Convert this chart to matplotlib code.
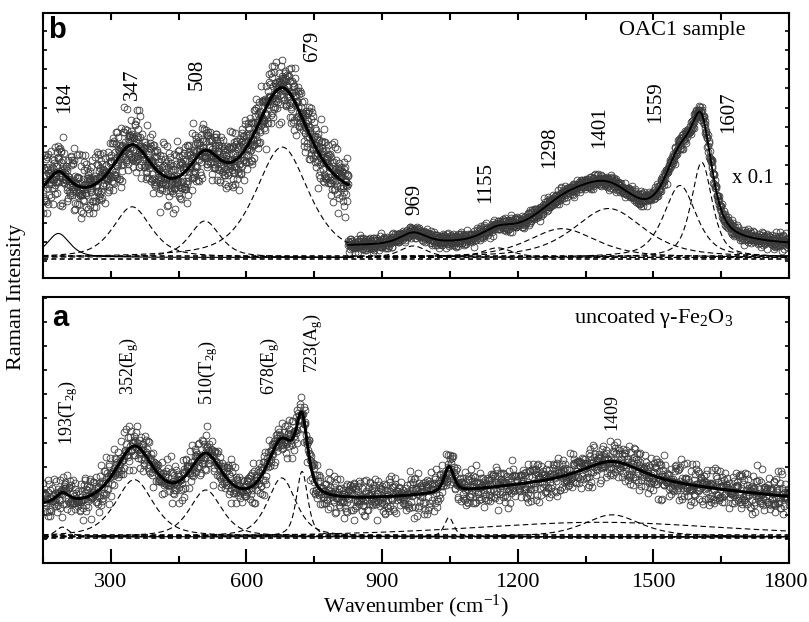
import numpy as np
import matplotlib
matplotlib.use("Agg")
import matplotlib.pyplot as plt
import matplotlib.transforms as mtransforms

plt.rcParams['font.family'] = ['Liberation Serif', 'DejaVu Serif']
plt.rcParams['mathtext.fontset'] = 'custom'
plt.rcParams['mathtext.rm'] = 'Liberation Serif'
plt.rcParams['mathtext.it'] = 'Liberation Serif:italic'

# ---------------- data ----------------
x_range = [150, 1800]
split_b = 825          # end of low-wavenumber segment in panel b (right part is x 0.1)

# Panel b (OAC1 sample): peak components (centre, height above baseline, FWHM)
b_lo_centers = [184, 347, 508, 679]
b_lo_heights = [1.25, 2.64, 1.9, 5.75]
b_lo_fwhm = [60, 100, 80, 140]
b_lo_fit_offset = 3.0
b_hi_centers = [969, 1155, 1298, 1401, 1559, 1607]
b_hi_heights = [0.6, 0.5, 1.5, 2.55, 3.75, 4.95]
b_hi_fwhm = [70, 80, 180, 185, 85, 55]
b_hi_fit_offset = 0.55
b_base = [0.27, 0.12]
b_noise = [0.8, 0.2]
b_labels = ["184", "347", "508", "679", "969", "1155", "1298", "1401", "1559", "1607"]
b_label_x = [199, 348, 492, 747, 973, 1130, 1270, 1381, 1505, 1667]
b_label_y = [7.72, 8.4, 8.92, 10.37, 2.4, 3.03, 4.85, 5.9, 7.2, 6.68]

# Panel a (uncoated gamma-Fe2O3)
a_centers = [193, 352, 510, 678, 723, 1048, 1380, 1409]
a_heights = [0.4, 2.37, 1.94, 2.44, 2.71, 0.8, 0.6, 0.91]
a_fit_heights = [0.4, 2.37, 1.94, 2.44, 2.71, 1.07, 1.1, 0.8]
a_fwhm = [35, 100, 85, 75, 30, 25, 700, 150]
a_fit_offset = 1.22
a_base = [1.16, 1.02]
a_noise = 0.42
a_labels = [r"193(T$_{\mathrm{2g}}$)", r"352(E$_{\mathrm{g}}$)", r"510(T$_{\mathrm{2g}}$)",
            r"678(E$_{\mathrm{g}}$)", r"723(A$_{\mathrm{g}}$)", "1409"]
a_label_x = [205, 340, 515, 652, 748, 1409]
a_label_y = [4.9, 6.97, 6.56, 6.97, 7.88, 5.52]

# hand-typed residual tables for the measured points
res_a = [0.42, -1.13, 0.87, -0.25, 1.61, -0.68, 0.05, -1.92, 0.73, 1.18, -0.37, -0.84, 0.29,
         1.45, -1.27, 0.61, -0.09, -1.55, 0.94, 0.18, -0.62, 2.05, -0.41, -1.01, 0.53, 1.32,
         -0.19, -0.77, 0.08, -1.38, 1.07, 0.35, -0.55, 1.76, -1.64, 0.22, -0.31, 0.66, -0.97,
         1.24, -0.12, 0.49, -2.11, 0.81, -0.46, 1.02, 0.14, -0.88, 0.57, -1.21, 1.39, -0.03,
         -0.71, 0.36, 1.89, -1.47, 0.27, -0.58, 0.99, -0.24, 0.64]
res_b = [-0.74, 1.28, 0.11, -1.36, 0.59, 0.93, -0.48, 1.71, -0.16, -1.08, 0.38, -0.61, 1.15,
         -1.79, 0.24, 0.82, -0.33, -0.95, 1.52, 0.04, -0.57, 0.71, -1.24, 0.47, 1.96, -0.28,
         -0.86, 0.15, 1.06, -1.51, 0.32, -0.14, 0.88, -0.69, 1.33, -1.02, 0.51, -0.39, -1.67,
         0.76, 0.19, 1.21, -0.52, -0.07, 0.96, -1.15, 0.63, -0.82, 1.44, -0.21, 0.34, -1.31, 0.68]


def peak(x, c, h, w, eta=0.6):
    g = np.exp(-4 * np.log(2) * ((x - c) / w) ** 2)
    l = 1.0 / (1.0 + ((x - c) / (w / 2)) ** 2)
    return h * (eta * l + (1 - eta) * g)


def residuals(n, start=0):
    ra, rb = np.array(res_a), np.array(res_b)
    i = np.arange(start, start + n)
    return (ra[i % len(ra)] + rb[(3 * i) % len(rb)]) / np.sqrt(2)


fig = plt.figure(figsize=(8.09, 6.22), dpi=100)
ax_b = fig.add_axes([43 / 809, 1 - 278 / 622, 746 / 809, 265 / 622])
ax_a = fig.add_axes([43 / 809, 1 - 563 / 622, 746 / 809, 266 / 622])

mk = dict(marker='o', ls='none', ms=4.9, mfc='none', mec='#3c3c3c', mew=0.6)
dash = dict(color='black', lw=0.8, ls=(0, (5, 3)))

# ---------------- panel b ----------------
base_b = np.mean(b_base)
xl = np.linspace(x_range[0], split_b, 1200)
xh = np.linspace(split_b, x_range[1], 1500)
fit_lo = b_lo_fit_offset + base_b + sum(peak(xl, c, h, w) for c, h, w in zip(b_lo_centers, b_lo_heights, b_lo_fwhm))
fit_hi = b_hi_fit_offset + base_b + sum(peak(xh, c, h, w) for c, h, w in zip(b_hi_centers, b_hi_heights, b_hi_fwhm))

dxl = np.arange(x_range[0], split_b, 0.55)
dxh = np.arange(split_b, x_range[1], 0.7)
dyl = np.interp(dxl, xl, fit_lo) + b_noise[0] * residuals(len(dxl))
dyh = np.interp(dxh, xh, fit_hi) + b_noise[1] * residuals(len(dxh), 500)
ax_b.plot(dxl, dyl, **mk)
ax_b.plot(dxh, dyh, **mk)

for k, (c, h, w) in enumerate(zip(b_lo_centers, b_lo_heights, b_lo_fwhm)):
    st = dict(color='black', lw=0.8) if k == 0 else dash
    ax_b.plot(xl, base_b + peak(xl, c, h, w), **st)
for c, h, w in zip(b_hi_centers, b_hi_heights, b_hi_fwhm):
    ax_b.plot(xh, base_b + peak(xh, c, h, w), **dash)
for yb in b_base:
    ax_b.plot(x_range, [yb, yb], color='black', lw=1.2, ls=(0, (3, 2)))
ax_b.plot(xl, fit_lo, color='black', lw=2.2)
ax_b.plot(xh, fit_hi, color='black', lw=1.4)

for t, xx, yy in zip(b_labels, b_label_x, b_label_y):
    ax_b.text(xx, yy, t, rotation=90, ha='center', va='bottom', fontsize=15)
ax_b.text(1675, 4.33, "x 0.1", ha='left', va='center', fontsize=15)
ax_b.text(1704, 12.0, "OAC1 sample", ha='right', va='center', fontsize=16)
ax_b.text(0.007, 0.906, "b", transform=ax_b.transAxes, fontsize=21, fontweight='bold',
          family='Liberation Sans', ha='left', va='baseline')

# ---------------- panel a ----------------
base_a = np.mean(a_base)
xa = np.linspace(x_range[0], x_range[1], 3000)
fit_a = a_fit_offset + base_a + sum(peak(xa, c, h, w) for c, h, w in zip(a_centers, a_fit_heights, a_fwhm))
dxa = np.arange(x_range[0], x_range[1], 0.85)
dya = np.interp(dxa, xa, fit_a) + a_noise * residuals(len(dxa), 1700)
ax_a.plot(dxa, dya, **mk)
for c, h, w in zip(a_centers, a_heights, a_fwhm):
    ax_a.plot(xa, base_a + peak(xa, c, h, w), **dash)
for yb in a_base:
    ax_a.plot(x_range, [yb, yb], color='black', lw=1.2, ls=(0, (3, 2)))
ax_a.plot(xa, fit_a, color='black', lw=2.2)

for t, xx, yy in zip(a_labels, a_label_x, a_label_y):
    ax_a.text(xx, yy, t, rotation=90, ha='center', va='bottom', fontsize=13)
ax_a.text(1677, 10.15, r"uncoated γ-Fe$_2$O$_3$", ha='right', va='center', fontsize=16)
ax_a.text(0.012, 0.891, "a", transform=ax_a.transAxes, fontsize=21, fontweight='bold',
          family='Liberation Sans', ha='left', va='baseline')

# ---------------- axes styling ----------------
for ax in (ax_a, ax_b):
    ax.set_xlim(x_range)
    for s in ax.spines.values():
        s.set_linewidth(1.5)
    ax.set_yticks(np.arange(0, 13))
    ax.set_yticklabels([])
    ax.tick_params(axis='y', which='both', direction='in', left=True, right=True, length=3, width=1.2)
ax_a.set_ylim(0, 11.04)
ax_b.set_ylim(-0.875, 12.93)

ax_a.set_xticks(np.arange(300, 1801, 300))
ax_a.set_xticks(np.arange(150, 1801, 300), minor=True)
ax_a.tick_params(axis='x', which='major', direction='in', length=10, width=1.5, labelsize=16, pad=7, top=False)
ax_a.tick_params(axis='x', which='minor', direction='in', length=5, width=1.5, top=False)
ax_b.set_xticks(np.arange(150, 1801, 150))
ax_b.set_xticklabels([])
ax_b.tick_params(axis='x', which='major', direction='in', length=5, width=1.5, top=True, bottom=True)

# keep the last tick label ("1800") inside the figure, as in the reference
last = ax_a.xaxis.get_major_ticks()[-1].label1
last.set_transform(last.get_transform() + mtransforms.ScaledTranslation(-4 / 100, 0, fig.dpi_scale_trans))

fig.text(416 / 809, 1 - 606 / 622, r"Wavenumber (cm$^{-1}$)", ha='center', va='center', fontsize=16)
fig.text(17 / 809, 1 - 297 / 622, "Raman Intensity", rotation=90, ha='center', va='center', fontsize=16)

fig.savefig("out.png", dpi=100)
